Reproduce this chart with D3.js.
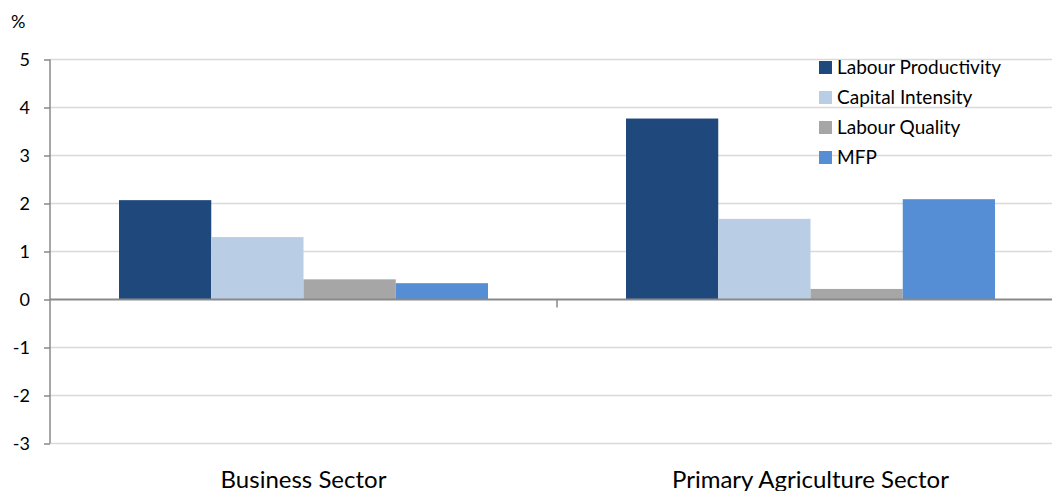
<!DOCTYPE html>
<html>
<head>
<meta charset="utf-8">
<script src="https://cdnjs.cloudflare.com/ajax/libs/d3/7.8.5/d3.min.js"></script>
<style>
  body { margin: 0; background: #fff; }
  svg { font-family: Lato, "Open Sans", sans-serif; }
</style>
</head>
<body>
<svg id="chart" width="1052" height="491"></svg>
<script>
var categories = ["Business Sector", "Primary Agriculture Sector"];
var seriesNames = ["Labour Productivity", "Capital Intensity", "Labour Quality", "MFP"];
var labourProductivity = [2.07, 3.77];
var capitalIntensity = [1.30, 1.68];
var labourQuality = [0.42, 0.22];
var mfp = [0.34, 2.09];
var yTicks = [5, 4, 3, 2, 1, 0, -1, -2, -3];
var colours = ["#1f497d", "#b9cde5", "#a6a6a6", "#558ed5"];

var seriesValues = [labourProductivity, capitalIntensity, labourQuality, mfp];

var svg = d3.select("#chart"),
    margin = {top: 59.5, left: 50},
    width = 1014,
    height = 384,
    g = svg.append("g").attr("transform", "translate(" + margin.left + "," + margin.top + ")");

var x0 = d3.scaleBand()
  .domain(categories)
  .range([0, width]);

var x1 = d3.scaleBand()
  .domain(seriesNames)
  .range([69, x0.bandwidth() - 69]);

var y = d3.scaleLinear()
  .domain([-3, 5])
  .range([height, 0]);

// gridlines
g.selectAll(".grid")
  .data(yTicks.filter(function(d) { return d !== 0 }))
  .enter().append("line")
    .attr("class", "grid")
    .attr("x1", 0)
    .attr("x2", width)
    .attr("y1", function(d) { return y(d) })
    .attr("y2", function(d) { return y(d) })
    .attr("stroke", "#d9d9d9")
    .attr("stroke-width", 1.5);

// bars
var groups = g.selectAll(".group")
  .data(categories)
  .enter().append("g")
    .attr("class", "group")
    .attr("transform", function(d) { return "translate(" + x0(d) + ",0)" });

groups.selectAll("rect")
  .data(function(c, ci) {
    return seriesNames.map(function(s, si) { return {series: s, value: seriesValues[si][ci], i: si} });
  })
  .enter().append("rect")
    .attr("x", function(d) { return x1(d.series) })
    .attr("width", x1.bandwidth())
    .attr("y", function(d) { return y(Math.max(0, d.value)) })
    .attr("height", function(d) { return Math.abs(y(d.value) - y(0)) })
    .attr("fill", function(d) { return colours[d.i] });

// y axis
var yAxis = g.append("g")
  .call(d3.axisLeft(y).tickValues(yTicks).tickSize(6).tickPadding(14)
    .tickFormat(function(d) { return String(d) }));
yAxis.attr("font-family", null).attr("font-size", null);
yAxis.select(".domain").attr("stroke", "#898989").attr("stroke-width", 1.5).attr("d", "M0," + y(5) + "V" + y(-3));
yAxis.selectAll(".tick line").attr("stroke", "#898989").attr("stroke-width", 1.5);
yAxis.selectAll(".tick text")
  .attr("font-size", 18)
  .attr("fill", "#000");

// zero line and category divider
g.append("line")
  .attr("x1", 0).attr("x2", width)
  .attr("y1", y(0)).attr("y2", y(0))
  .attr("stroke", "#898989").attr("stroke-width", 2);

g.selectAll(".cat-tick")
  .data(categories.slice(1))
  .enter().append("line")
    .attr("x1", function(d) { return x0(d) })
    .attr("x2", function(d) { return x0(d) })
    .attr("y1", y(0))
    .attr("y2", y(0) + 8)
    .attr("stroke", "#898989").attr("stroke-width", 1.5);

// category labels
g.selectAll(".cat-label")
  .data(categories)
  .enter().append("text")
    .attr("x", function(d) { return x0(d) + x0.bandwidth() / 2 })
    .attr("y", height + 44)
    .attr("text-anchor", "middle")
    .attr("font-size", 24)
    .attr("fill", "#000")
    .text(function(d) { return d });

// unit label
svg.append("text")
  .attr("x", 11)
  .attr("y", 28)
  .attr("font-size", 18)
  .attr("fill", "#000")
  .text("%");

// legend
var legend = svg.append("g").attr("transform", "translate(819,67)");
var item = legend.selectAll(".item")
  .data(seriesNames)
  .enter().append("g")
    .attr("transform", function(d, i) { return "translate(0," + (i * 30) + ")" });
item.append("rect")
  .attr("x", 0).attr("y", -6)
  .attr("width", 13).attr("height", 13)
  .attr("fill", function(d, i) { return colours[i] });
item.append("text")
  .attr("x", 18)
  .attr("y", 7)
  .attr("font-size", 19)
  .attr("fill", "#000")
  .text(function(d) { return d });
</script>
</body>
</html>
